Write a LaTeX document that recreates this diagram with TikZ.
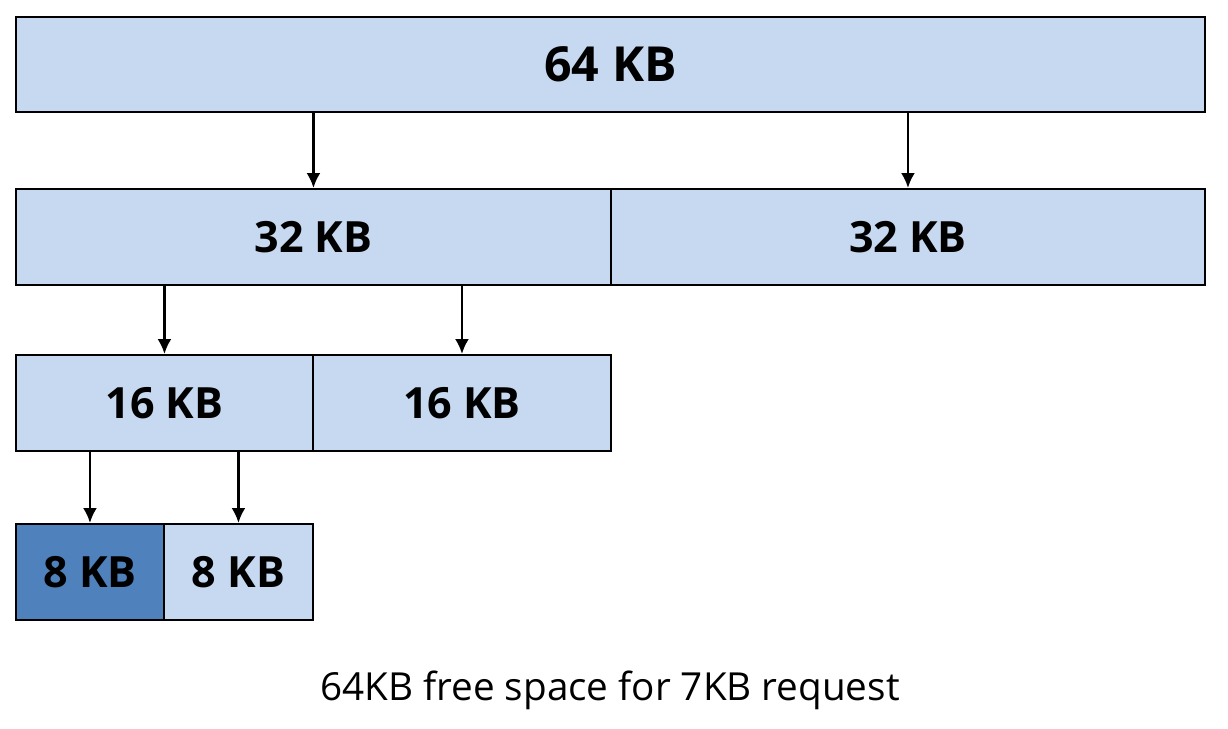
\documentclass[tikz,border=0pt]{standalone}
\usepackage{fontspec}
\setmainfont{Open Sans}
\usepackage{xcolor}
\usetikzlibrary{arrows.meta,positioning}
\definecolor{blocklight}{HTML}{C6D9F0}
\definecolor{blockdark}{HTML}{4F81BD}

\begin{document}
\begin{tikzpicture}[
  x=0.02cm, y=-0.02cm,
  block/.style={draw=black, line width=1.1pt, fill=blocklight, anchor=north west, inner sep=0pt, font=\fontsize{24.5}{30}\selectfont\bfseries},
  usedblock/.style={block, fill=blockdark},
  arrow/.style={-{Latex[length=3mm,width=2.8mm]}, line width=1.4pt}
]
\useasboundingbox (0,0) rectangle (1228,728);

% top level
\node[block, minimum width=1189*0.02cm, minimum height=95*0.02cm, font=\fontsize{27.5}{32}\selectfont\bfseries] (k64) at (15,16) {64 KB};

% halves
\node[block, minimum width=595*0.02cm, minimum height=96*0.02cm] (k32a) at (15,188) {32 KB};
\node[block, minimum width=594*0.02cm, minimum height=96*0.02cm] (k32b) at (610,188) {32 KB};

% quarters
\node[block, minimum width=297*0.02cm, minimum height=96*0.02cm] (k16a) at (15,354) {16 KB};
\node[block, minimum width=298*0.02cm, minimum height=96*0.02cm] (k16b) at (312,354) {16 KB};

% eighths
\node[usedblock, minimum width=148*0.02cm, minimum height=96*0.02cm] (k8a) at (15,523) {8 KB};
\node[block, minimum width=149*0.02cm, minimum height=96*0.02cm] (k8b) at (163,523) {8 KB};

\draw[arrow] (k64.south -| k32a) -- (k32a.north);
\draw[arrow] (k64.south -| k32b) -- (k32b.north);
\draw[arrow] (k32a.south -| k16a) -- (k16a.north);
\draw[arrow] (k32a.south -| k16b) -- (k16b.north);
\draw[arrow] (k16a.south -| k8a) -- (k8a.north);
\draw[arrow] (k16a.south -| k8b) -- (k8b.north);

\node[font=\fontsize{22}{27}\selectfont] (caption) at (610,690) {64KB free space for 7KB request};
\end{tikzpicture}
\end{document}
